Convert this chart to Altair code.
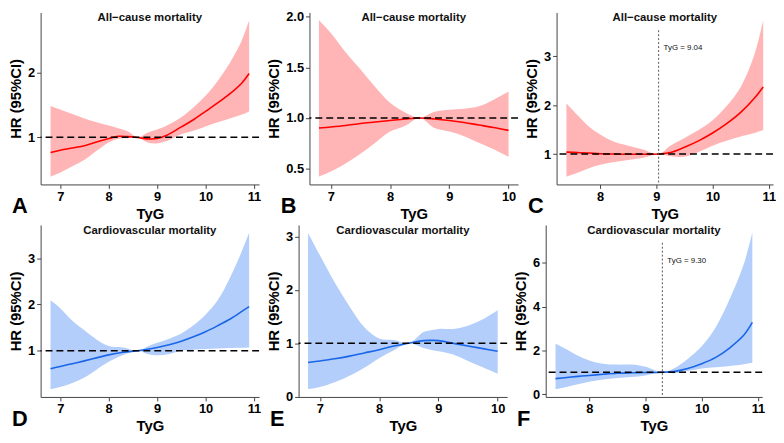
import altair as alt
import pandas as pd

# ---------------- data ----------------
REF_HR = 1.0

A_x  = [6.8, 7.0, 7.25, 7.5, 7.75, 8.0, 8.2, 8.4, 8.6, 8.8, 9.0, 9.2, 9.5, 9.75, 10.0, 10.25, 10.5, 10.75, 10.9]
A_hr = [0.765, 0.80, 0.835, 0.87, 0.925, 0.98, 1.015, 1.01, 0.995, 0.975, 0.98, 1.03, 1.16, 1.27, 1.40, 1.53, 1.67, 1.84, 1.985]
A_hi = [1.485, 1.43, 1.36, 1.29, 1.23, 1.18, 1.14, 1.09, 1.0, 1.07, 1.12, 1.18, 1.31, 1.46, 1.64, 1.87, 2.15, 2.50, 2.81]
A_lo = [0.39, 0.455, 0.55, 0.65, 0.79, 0.92, 0.975, 0.99, 1.0, 0.92, 0.905, 0.94, 1.045, 1.10, 1.165, 1.23, 1.29, 1.35, 1.40]

B_x  = [6.8, 7.0, 7.25, 7.5, 7.75, 8.0, 8.25, 8.5, 8.75, 9.0, 9.25, 9.5, 9.75, 10.0]
B_hr = [0.90, 0.91, 0.925, 0.945, 0.96, 0.975, 0.99, 1.0, 0.99, 0.975, 0.955, 0.93, 0.905, 0.877]
B_hi = [1.965, 1.84, 1.65, 1.48, 1.305, 1.15, 1.055, 1.0, 1.06, 1.08, 1.09, 1.115, 1.18, 1.26]
B_lo = [0.42, 0.47, 0.55, 0.645, 0.755, 0.865, 0.92, 1.0, 0.90, 0.865, 0.82, 0.755, 0.69, 0.615]

C_x  = [7.4, 7.6, 7.8, 8.0, 8.25, 8.5, 8.75, 9.04, 9.25, 9.5, 9.75, 10.0, 10.25, 10.5, 10.75, 10.9]
C_hr = [1.04, 1.03, 1.02, 1.006, 1.0, 0.995, 0.995, 1.0, 1.03, 1.14, 1.27, 1.43, 1.62, 1.85, 2.15, 2.37]
C_hi = [2.03, 1.79, 1.56, 1.40, 1.25, 1.17, 1.10, 1.0, 1.17, 1.33, 1.49, 1.69, 1.98, 2.37, 3.05, 3.73]
C_lo = [0.54, 0.62, 0.71, 0.78, 0.84, 0.88, 0.92, 1.0, 0.955, 0.945, 1.04, 1.17, 1.27, 1.36, 1.43, 1.49]

D_x  = [6.8, 7.0, 7.25, 7.5, 7.75, 8.0, 8.3, 8.6, 8.8, 9.0, 9.25, 9.5, 9.75, 10.0, 10.25, 10.5, 10.75, 10.9]
D_hr = [0.61, 0.66, 0.72, 0.78, 0.845, 0.91, 0.965, 1.0, 1.03, 1.07, 1.13, 1.205, 1.30, 1.41, 1.54, 1.68, 1.85, 1.955]
D_hi = [2.09, 1.92, 1.65, 1.44, 1.24, 1.10, 1.07, 1.0, 1.09, 1.17, 1.26, 1.375, 1.55, 1.78, 2.09, 2.57, 3.15, 3.55]
D_lo = [0.17, 0.215, 0.30, 0.42, 0.59, 0.76, 0.91, 1.0, 0.93, 0.90, 0.93, 1.0, 1.02, 1.035, 1.05, 1.06, 1.065, 1.07]

E_x  = [6.8, 7.0, 7.25, 7.5, 7.75, 8.0, 8.25, 8.5, 8.75, 8.9, 9.0, 9.25, 9.5, 9.75, 10.0]
E_hr = [0.64, 0.67, 0.71, 0.76, 0.82, 0.88, 0.95, 1.0, 1.05, 1.055, 1.05, 1.0, 0.95, 0.90, 0.85]
E_hi = [3.07, 2.65, 2.14, 1.69, 1.30, 1.09, 1.06, 1.0, 1.21, 1.25, 1.27, 1.27, 1.33, 1.45, 1.62]
E_lo = [0.14, 0.18, 0.27, 0.39, 0.54, 0.72, 0.87, 1.0, 0.91, 0.87, 0.85, 0.79, 0.67, 0.55, 0.43]

F_x  = [7.4, 7.6, 7.8, 8.0, 8.25, 8.5, 8.75, 9.0, 9.3, 9.5, 9.75, 10.0, 10.25, 10.5, 10.75, 10.9]
F_hr = [0.71, 0.76, 0.81, 0.855, 0.91, 0.955, 0.975, 0.985, 1.0, 1.03, 1.17, 1.39, 1.68, 2.12, 2.70, 3.28]
F_hi = [2.30, 2.04, 1.75, 1.54, 1.39, 1.35, 1.35, 1.25, 1.0, 1.17, 1.61, 2.19, 3.06, 4.36, 5.96, 7.38]
F_lo = [0.23, 0.33, 0.45, 0.57, 0.67, 0.74, 0.78, 0.855, 1.0, 0.955, 1.06, 1.17, 1.23, 1.29, 1.37, 1.43]

CUT_C = 9.04
CUT_F = 9.30

TITLE_ALL = "All\u2212cause mortality"
TITLE_CV = "Cardiovascular mortality"

RED_LINE, RED_BAND = "#FF0000", "#FFB5B5"
BLUE_LINE, BLUE_BAND = "#1A66E8", "#B3CEFA"

FONT = "Liberation Sans"
INTERP = "catmull-rom"


def panel(xs, hr, lo, hi, xdom, ydom, xticks, yticks, yfmt, line_col, band_col,
          title, letter, w, h, cut=None):
    df = pd.DataFrame({"x": xs, "hr": hr, "lo": lo, "hi": hi})
    xscale = alt.Scale(domain=xdom, nice=False, zero=False)
    yscale = alt.Scale(domain=ydom, nice=False, zero=False)
    xaxis = alt.Axis(values=xticks, title="TyG", format="d")
    yaxis = alt.Axis(values=yticks, title="HR (95%CI)", format=yfmt)

    def X(f):
        return alt.X(f, type="quantitative", scale=xscale, axis=xaxis)

    def Y(f):
        return alt.Y(f, type="quantitative", scale=yscale, axis=yaxis)

    band = alt.Chart(df).mark_area(color=band_col, opacity=1, interpolate=INTERP).encode(
        x=X("x"), y=Y("lo"), y2="hi")
    line = alt.Chart(df).mark_line(color=line_col, strokeWidth=1.6, interpolate=INTERP).encode(
        x=X("x"), y=Y("hr"))
    ref = alt.Chart(pd.DataFrame({"ref": [REF_HR]})).mark_rule(
        color="black", strokeWidth=1.6, strokeDash=[7, 4]).encode(y=Y("ref"))
    ttl = alt.Chart(pd.DataFrame({"t": [title]})).mark_text(
        font=FONT, fontSize=11.5, fontWeight="bold", color="#111", baseline="middle", align="center"
    ).encode(text="t:N", x=alt.value(w / 2), y=alt.value(6))
    lab = alt.Chart(pd.DataFrame({"t": [letter]})).mark_text(
        font=FONT, fontSize=22, fontWeight="bold", color="black", baseline="middle", align="left"
    ).encode(text="t:N", x=alt.value(-29), y=alt.value(h + 22))
    layers = [band, line, ref]
    if cut is not None:
        cdf = pd.DataFrame({"cut": [cut], "t": ["TyG = %.2f" % cut]})
        vr = alt.Chart(cdf).mark_rule(color="#555", strokeWidth=1, strokeDash=[2, 2]).encode(
            x=X("cut"), y=alt.value(18), y2=alt.value(h))
        vt = alt.Chart(cdf).mark_text(font=FONT, fontSize=8, color="#111", align="left",
                                      baseline="middle", dx=5).encode(
            x=X("cut"), text="t:N", y=alt.value(36))
        layers += [vr, vt]
    layers += [ttl, lab]
    return alt.layer(*layers).properties(width=w, height=h)


H = 174
pA = panel(A_x, A_hr, A_lo, A_hi, [6.595, 11.105], [0.27, 2.93], [7, 8, 9, 10, 11], [1, 2], "d",
           RED_LINE, RED_BAND, TITLE_ALL, "A", 221, H)
pB = panel(B_x, B_hr, B_lo, B_hi, [6.64, 10.16], [0.343, 2.042], [7, 8, 9, 10], [0.5, 1.0, 1.5, 2.0], ".1f",
           RED_LINE, RED_BAND, TITLE_ALL, "B", 211, H)
pC = panel(C_x, C_hr, C_lo, C_hi, [7.225, 11.075], [0.38, 3.89], [8, 9, 10, 11], [1, 2, 3], "d",
           RED_LINE, RED_BAND, TITLE_ALL, "C", 219, H, cut=CUT_C)
pD = panel(D_x, D_hr, D_lo, D_hi, [6.595, 11.105], [0.0, 3.72], [7, 8, 9, 10, 11], [1, 2, 3], "d",
           BLUE_LINE, BLUE_BAND, TITLE_CV, "D", 221, H)
pE = panel(E_x, E_hr, E_lo, E_hi, [6.64, 10.16], [-0.006, 3.22], [7, 8, 9, 10], [0, 1, 2, 3], "d",
           BLUE_LINE, BLUE_BAND, TITLE_CV, "E", 211, H)
pF = panel(F_x, F_hr, F_lo, F_hi, [7.225, 11.075], [-0.13, 7.74], [8, 9, 10, 11], [0, 2, 4, 6], "d",
           BLUE_LINE, BLUE_BAND, TITLE_CV, "F", 219, H, cut=CUT_F)

row1 = alt.hconcat(pA, pB, pC, spacing=5)
row2 = alt.hconcat(pD, pE, pF, spacing=5)
chart = alt.vconcat(row1, row2, spacing=4).properties(padding=0).configure_view(stroke=None).configure_axis(
    grid=False,
    labelFont=FONT, labelFontSize=13, labelFontWeight="bold", labelColor="black",
    titleFont=FONT, titleFontSize=15, titleFontWeight="bold", titleColor="black",
    domainColor="#444", domainWidth=1, tickColor="#444", tickSize=4, tickWidth=1,
    labelPadding=2, titlePadding=4,
).configure_axisX(titlePadding=3)

chart.save("out.html", embed_options={"renderer": "svg", "actions": False})
